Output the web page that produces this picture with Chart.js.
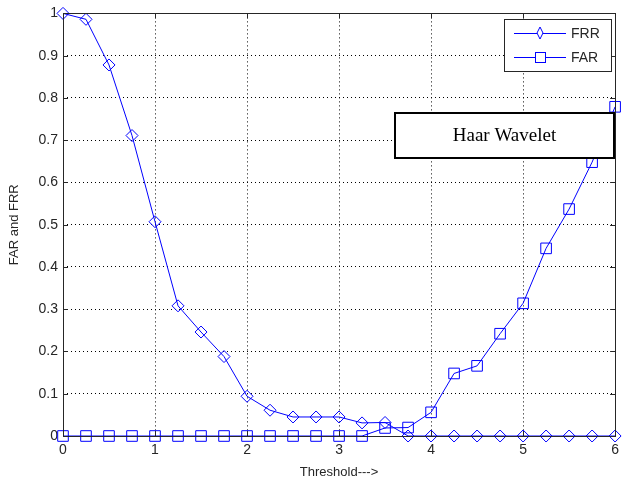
<!DOCTYPE html>
<html>
<head>
<meta charset="utf-8">
<script src="https://cdn.jsdelivr.net/npm/chart.js@4.4.1/dist/chart.umd.min.js"></script>
<style>
  html, body { margin: 0; padding: 0; background: #fff; }
  #wrap { width: 625px; height: 484px; position: relative; }
</style>
</head>
<body>
<div id="wrap"><canvas id="myChart"></canvas></div>
<script>
const thresholds = [0, 0.25, 0.5, 0.75, 1, 1.25, 1.5, 1.75, 2, 2.25, 2.5, 2.75, 3,
  3.25, 3.5, 3.75, 4, 4.25, 4.5, 4.75, 5, 5.25, 5.5, 5.75, 6];
const frr = [1.0, 0.986, 0.878, 0.711, 0.507, 0.308, 0.246, 0.188, 0.094, 0.061, 0.045, 0.045, 0.045,
  0.031, 0.032, 0, 0, 0, 0, 0, 0, 0, 0, 0, 0];
const far = [0, 0, 0, 0, 0, 0, 0, 0, 0, 0, 0, 0, 0,
  0, 0.019, 0.02, 0.056, 0.148, 0.166, 0.242, 0.314, 0.444, 0.537, 0.648, 0.779];
const legendLabels = ['FRR', 'FAR'];
const noteText = 'Haar Wavelet';

const blue = '#0000ff';
const axisGrey = '#262626';

function toPoints(ys) {
  return thresholds.map((x, i) => ({ x: x, y: ys[i] }));
}

// matlab-ish frame, inward ticks, legend and text box
const matlabBits = {
  id: 'matlabBits',
  afterDraw(chart) {
    const ctx = chart.ctx;
    const a = chart.chartArea;
    const xs = chart.scales.x;
    const ys = chart.scales.y;
    ctx.save();
    ctx.strokeStyle = axisGrey;
    ctx.lineWidth = 1;
    ctx.setLineDash([]);
    ctx.strokeRect(Math.round(a.left) + 0.5, Math.round(a.top) + 0.5,
      Math.round(a.right - a.left), Math.round(a.bottom - a.top));
    ctx.beginPath();
    xs.ticks.forEach(t => {
      const px = Math.round(xs.getPixelForValue(t.value)) + 0.5;
      ctx.moveTo(px, a.bottom); ctx.lineTo(px, a.bottom - 5);
      ctx.moveTo(px, a.top); ctx.lineTo(px, a.top + 5);
    });
    ys.ticks.forEach(t => {
      const py = Math.round(ys.getPixelForValue(t.value)) + 0.5;
      ctx.moveTo(a.left, py); ctx.lineTo(a.left + 5, py);
      ctx.moveTo(a.right, py); ctx.lineTo(a.right - 5, py);
    });
    ctx.stroke();

    // legend
    const lx = 504, ly = 19, lw = 107, lh = 52;
    ctx.fillStyle = '#fff';
    ctx.fillRect(lx, ly, lw, lh);
    ctx.strokeStyle = axisGrey;
    ctx.strokeRect(lx + 0.5, ly + 0.5, lw, lh);
    chart.data.datasets.forEach((ds, i) => {
      const y = ly + 14 + i * 24;
      ctx.strokeStyle = blue;
      ctx.beginPath();
      ctx.moveTo(lx + 10, y + 0.5); ctx.lineTo(lx + 62, y + 0.5);
      ctx.stroke();
      if (i === 0) {
        ctx.beginPath();
        ctx.moveTo(lx + 36, y - 6); ctx.lineTo(lx + 39, y); ctx.lineTo(lx + 36, y + 6);
        ctx.lineTo(lx + 33, y); ctx.closePath();
        ctx.fillStyle = '#fff'; ctx.fill(); ctx.stroke();
      } else {
        ctx.fillStyle = '#fff';
        ctx.fillRect(lx + 31.5, y - 4.5, 10, 10);
        ctx.strokeRect(lx + 31.5, y - 4.5, 10, 10);
      }
      ctx.fillStyle = axisGrey;
      ctx.font = '14px "Liberation Sans", Arial, sans-serif';
      ctx.textBaseline = 'middle';
      ctx.textAlign = 'left';
      ctx.fillText(legendLabels[i], lx + 67, y + 1);
    });

    // note box
    const bx = 395, by = 113, bw = 219, bh = 45;
    ctx.fillStyle = '#fff';
    ctx.fillRect(bx, by, bw, bh);
    ctx.strokeStyle = '#000';
    ctx.lineWidth = 2;
    ctx.strokeRect(bx, by, bw, bh);
    ctx.fillStyle = '#000';
    ctx.font = '19px "Liberation Serif", "Times New Roman", serif';
    ctx.textAlign = 'center';
    ctx.textBaseline = 'middle';
    ctx.fillText(noteText, bx + bw / 2, by + bh / 2 + 1);
    ctx.restore();
  }
};

const config = {
  type: 'line',
  data: {
    datasets: [{
      label: legendLabels[0],
      data: toPoints(frr),
      borderColor: blue,
      backgroundColor: 'rgba(0,0,0,0)',
      borderWidth: 1,
      pointStyle: 'rectRot',
      pointRadius: 6,
      pointBorderWidth: 1,
      pointBorderColor: blue,
      pointBackgroundColor: 'rgba(0,0,0,0)',
      tension: 0,
      clip: false
    }, {
      label: legendLabels[1],
      data: toPoints(far),
      borderColor: blue,
      backgroundColor: 'rgba(0,0,0,0)',
      borderWidth: 1,
      pointStyle: 'rect',
      pointRadius: 7.5,
      pointBorderWidth: 1,
      pointBorderColor: blue,
      pointBackgroundColor: 'rgba(0,0,0,0)',
      tension: 0,
      clip: false
    }]
  },
  options: {
    responsive: true,
    maintainAspectRatio: false,
    animation: false,
    layout: { padding: { top: 10, right: 8, left: 0, bottom: 0 } },
    plugins: {
      legend: { display: false },
      tooltip: { enabled: false }
    },
    scales: {
      x: {
        type: 'linear',
        min: 0,
        max: 6,
        afterFit(scale) { scale.height = 48; },
        ticks: {
          stepSize: 1,
          padding: 6,
          color: axisGrey,
          font: { family: '"Liberation Sans", Arial, sans-serif', size: 14 }
        },
        grid: { color: '#000', lineWidth: 1, drawTicks: false },
        border: { display: false, dash: [1, 3] },
        title: {
          display: true,
          text: 'Threshold--->',
          color: axisGrey,
          padding: { top: 8, bottom: 4 },
          font: { family: '"Liberation Sans", Arial, sans-serif', size: 13 }
        }
      },
      y: {
        min: 0,
        max: 1,
        afterFit(scale) { scale.width = 63; },
        ticks: {
          stepSize: 0.1,
          padding: 5,
          color: axisGrey,
          font: { family: '"Liberation Sans", Arial, sans-serif', size: 14 },
          callback: v => String(Math.round(v * 10) / 10)
        },
        grid: { color: '#000', lineWidth: 1, drawTicks: false },
        border: { display: false, dash: [1, 3] },
        title: {
          display: true,
          text: 'FAR and FRR',
          color: axisGrey,
          padding: { top: 7, bottom: 6 },
          font: { family: '"Liberation Sans", Arial, sans-serif', size: 13 }
        }
      }
    }
  },
  plugins: [matlabBits]
};

const wrapper = document.querySelector('#myChart');
const myChart = new Chart(wrapper, config);
</script>
</body>
</html>
